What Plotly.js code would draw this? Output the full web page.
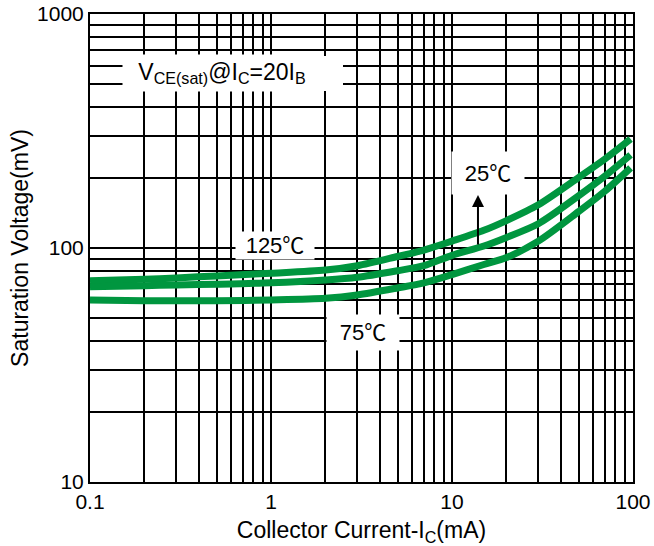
<!DOCTYPE html>
<html>
<head>
<meta charset="utf-8">
<script src="https://cdn.plot.ly/plotly-3.0.1.min.js"></script>
<style>html,body{margin:0;padding:0;background:#fff;}#chart{width:654px;height:546px;}</style>
</head>
<body>
<div id="chart"></div>
<script>
// Collector current (mA)
const current = [0.1, 0.2, 0.3, 0.5, 1, 2, 3, 5, 7, 10, 15, 20, 30, 50, 70, 97];
// Saturation voltage (mV)
const vsat125 = [72.5, 73.5, 74.5, 76, 78, 80.5, 84, 92, 98, 107, 119, 131, 153, 200, 240, 292];
const vsat25  = [68.3, 69, 69.5, 70, 71, 73, 75, 80, 84, 93, 102, 111, 127, 167, 203, 250];
const vsat75  = [60, 59.5, 59.5, 59.5, 60, 61, 63, 67.5, 71, 77, 85, 91, 107, 143, 175, 220];
const seriesNames = ['125℃', '25℃', '75℃'];
const xTickVals = [0.1, 1, 10, 100];
const xTickText = ['0.1', '1', '10', '100'];
const yTickVals = [10, 100, 1000];
const yTickText = ['10', '100', '1000'];

const green = '#00963F';
const font = "'Liberation Sans', Arial, 'Noto Sans CJK SC', sans-serif";
const mk = (y, name) => ({
  x: current, y: y, name: name, type: 'scatter', mode: 'lines',
  line: {color: green, width: 7, shape: 'spline', smoothing: 0.8},
  hoverinfo: 'skip'
});
const data = [mk(vsat125, seriesNames[0]), mk(vsat25, seriesNames[1]), mk(vsat75, seriesNames[2])];

const axisCommon = {
  type: 'log', showline: true, mirror: true, linecolor: '#000', linewidth: 2,
  showgrid: true, gridcolor: '#000', gridwidth: 2, zeroline: false, ticks: '',
  tickfont: {family: font, size: 21, color: '#000'},
  minor: {dtick: 'D1', showgrid: true, gridcolor: '#000', gridwidth: 2, ticks: ''}
};

const lbl = (text, x, y, w, h, size, align) => ({
  xref: 'paper', yref: 'paper', x: x, y: y, xanchor: 'center', yanchor: 'middle',
  text: text, showarrow: false, bgcolor: '#fff', width: w, height: h, align: align || 'center',
  borderpad: 1,
  font: {family: font, size: size || 22, color: '#000'}
});

const layout = {
  width: 654, height: 546,
  margin: {l: 90, r: 21, t: 14, b: 64},
  paper_bgcolor: '#fff', plot_bgcolor: '#fff',
  showlegend: false,
  xaxis: Object.assign({}, axisCommon, {
    range: [-1, 2], tickvals: xTickVals, ticktext: xTickText,
    title: {text: 'Collector Current-I<sub>C</sub>(mA)', font: {family: font, size: 23, color: '#000'}, standoff: 12}
  }),
  yaxis: Object.assign({}, axisCommon, {
    range: [1, 3], tickvals: yTickVals, ticktext: yTickText,
    title: {text: 'Saturation Voltage(mV)', font: {family: font, size: 23, color: '#000'}, standoff: 2}
  }),
  annotations: [
    lbl('V<sub>CE(sat)</sub>@I<sub>C</sub>=20I<sub>B</sub>', 0.2422, 0.874, 196, 34, 23, 'center'),
    lbl('125℃', 0.3407, 0.5053, 76, 25),
    lbl('75℃', 0.5028, 0.3205, 70, 33),
    lbl('25℃', 0.733, 0.6603, 70, 40)
  ].concat([
    {xref: 'paper', yref: 'paper', x: 0.7145, y: 0.6132, ax: 0, ay: 51, text: '',
     showarrow: true, arrowhead: 2, arrowsize: 1.2, arrowwidth: 2, arrowcolor: '#000'}
  ]),
  shapes: [
    {type: 'rect', xref: 'paper', yref: 'paper', layer: 'above',
     x0: (123 - 90) / 543, x1: (343 - 90) / 543, y0: (482 - 91) / 468, y1: (482 - 56) / 468,
     fillcolor: '#fff', line: {width: 0}}
  ]
};

Plotly.newPlot('chart', data, layout, {displayModeBar: false, staticPlot: true});
</script>
</body>
</html>
